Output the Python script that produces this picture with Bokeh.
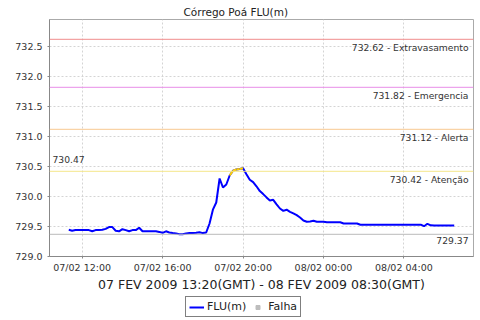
import pandas as pd
from bokeh.plotting import figure
from bokeh.layouts import column
from bokeh.models import (ColumnDataSource, Span, Label, Legend, LegendItem, Range1d,
                          FixedTicker, NumeralTickFormatter, DatetimeTickFormatter)
from bokeh.embed import file_html
from bokeh.resources import INLINE

# ---------------- data ----------------
title_text = "Córrego Poá FLU(m)"
subtitle_text = "07 FEV 2009 13:20(GMT) - 08 FEV 2009 08:30(GMT)"
series_name = "FLU(m)"
fail_name = "Falha"

start_time = "2009-02-07 11:20"   # local time of first reading
step = "10min"
flu_values = [
    729.445, 729.43, 729.44, 729.44, 729.44, 729.44, 729.44, 729.42, 729.44, 729.44,
    729.445, 729.46, 729.49, 729.49, 729.43, 729.42, 729.455, 729.44, 729.42, 729.44,
    729.44, 729.48, 729.42, 729.42, 729.42, 729.42, 729.42, 729.41, 729.395, 729.42,
    729.40, 729.39, 729.385, 729.37, 729.37, 729.385, 729.39, 729.39, 729.395, 729.405,
    729.39, 729.40, 729.55, 729.78, 729.90, 730.30, 730.15, 730.20, 730.35, 730.43,
    730.45, 730.46, 730.47, 730.37, 730.28, 730.24, 730.17, 730.09, 730.04, 729.985,
    729.935, 729.945, 729.87, 729.80, 729.76, 729.78, 729.745, 729.72, 729.69, 729.65,
    729.60, 729.58, 729.585, 729.595, 729.58, 729.58, 729.58, 729.57, 729.57, 729.57,
    729.57, 729.57, 729.55, 729.55, 729.55, 729.55, 729.55,
    729.53, 729.53, 729.53, 729.53, 729.53, 729.53, 729.53, 729.53, 729.53, 729.53,
    729.53, 729.53, 729.53, 729.53, 729.53, 729.53, 729.53, 729.53, 729.53,
    729.505, 729.545, 729.52,
    729.515, 729.515, 729.515, 729.515, 729.515, 729.515, 729.515,
]
fail_times = []    # no failure periods in this window
fail_values = []

threshold_names = ["Extravasamento", "Emergencia", "Alerta", "Atenção"]
threshold_values = [732.62, 731.82, 731.12, 730.42]
threshold_colors = ["#f08c8c", "#e88ee8", "#f8c890", "#f4e68a"]

y_ticks = [729.0, 729.5, 730.0, 730.5, 731.0, 731.5, 732.0, 732.5]
y_low, y_high = 729.0, 732.95
x_tick_times = ["2009-02-07 12:00", "2009-02-07 16:00", "2009-02-07 20:00",
                "2009-02-08 00:00", "2009-02-08 04:00"]

# ---------------- derived ----------------
times = pd.date_range(start=start_time, periods=len(flu_values), freq=step)
src = ColumnDataSource(dict(t=times, v=flu_values))

alert_level = threshold_values[3]
seg = dict(x0=[], y0=[], x1=[], y1=[])
for i in range(1, len(flu_values)):
    if flu_values[i] >= alert_level:
        seg["x0"].append(times[i - 1]); seg["y0"].append(flu_values[i - 1])
        seg["x1"].append(times[i]); seg["y1"].append(flu_values[i])
seg_src = ColumnDataSource(seg)

vmax = max(flu_values)
vmin = min(flu_values)
span_t = times[-1] - times[0]
x_start = times[0] - span_t * 0.05
x_end = times[-1] + span_t * 0.05

FONT = "DejaVu Sans"
TXT = "#333333"
FAIL_COLOR = "#bdbdbd"

p = figure(width=480, height=294, output_backend="svg", toolbar_location=None,
           x_axis_type="datetime",
           x_range=Range1d(x_start, x_end), y_range=Range1d(y_low, y_high),
           min_border_left=49, min_border_right=7, min_border_top=19, min_border_bottom=38)

p.title.text = title_text
p.title.align = "left"
p.title.text_font = FONT
p.title.text_font_size = "10.5px"
p.title.text_font_style = "normal"
p.title.text_color = "#222222"
p.title.standoff = 4
p.title.offset = 134

p.background_fill_color = "white"
p.border_fill_color = "white"
p.outline_line_color = "#aaaaaa"

for g in (p.xgrid, p.ygrid):
    g.grid_line_color = "#d4d4d4"
    g.grid_line_dash = "2 2"
    g.grid_line_width = 1

p.yaxis.ticker = FixedTicker(ticks=y_ticks)
p.yaxis.formatter = NumeralTickFormatter(format="0.0")
p.xaxis.ticker = FixedTicker(ticks=[pd.Timestamp(t).value // 10**6 for t in x_tick_times])
fmt = "%d/%m %H:%M"
p.xaxis.formatter = DatetimeTickFormatter(milliseconds=fmt, seconds=fmt, minsec=fmt, minutes=fmt,
                                          hourmin=fmt, hours=fmt, days=fmt, months=fmt, years=fmt)

for ax in (p.xaxis[0], p.yaxis[0]):
    ax.axis_line_color = "#888888"
    ax.major_tick_line_color = "#888888"
    ax.major_tick_out = 2
    ax.major_tick_in = 0
    ax.minor_tick_out = 0
    ax.minor_tick_in = 0
    ax.major_label_text_font = FONT
    ax.major_label_text_font_size = "9.5px"
    ax.major_label_text_color = TXT
p.yaxis.major_label_standoff = 5
p.xaxis.major_label_standoff = 3

p.xaxis.axis_label = subtitle_text
p.xaxis.axis_label_text_font = FONT
p.xaxis.axis_label_text_font_size = "12.5px"
p.xaxis.axis_label_text_font_style = "normal"
p.xaxis.axis_label_text_color = "#222222"
p.xaxis.axis_label_standoff = 1

# thresholds
for name, val, col in zip(threshold_names, threshold_values, threshold_colors):
    p.add_layout(Span(location=val, dimension="width", line_color=col, line_width=1))
    p.add_layout(Label(x=x_end, y=val, text=f"{val:.2f} - {name}", x_offset=-5, y_offset=-3,
                       text_align="right", text_baseline="top", text_font=FONT,
                       text_font_size="9.2px", text_color=TXT))

# min line and label
p.add_layout(Span(location=vmin, dimension="width", line_color="#bbbbbb", line_width=1))
p.add_layout(Label(x=x_end, y=vmin, text=f"{vmin:.2f}", x_offset=-5, y_offset=-3,
                   text_align="right", text_baseline="top", text_font=FONT,
                   text_font_size="9.2px", text_color=TXT))
# max label
p.add_layout(Label(x=x_start, y=vmax, text=f"{vmax:.2f}", x_offset=3, y_offset=5,
                   text_align="left", text_baseline="bottom", text_font=FONT,
                   text_font_size="9.2px", text_color=TXT))

p.line("t", "v", source=src, line_color="#0000ff", line_width=2)
p.segment("x0", "y0", "x1", "y1", source=seg_src, line_color="#ffd200", line_width=2)
p.scatter(x=fail_times, y=fail_values, marker="square", size=8,
          fill_color=FAIL_COLOR, line_color=FAIL_COLOR)

# legend strip (separate small figure below the axis title). Its swatch renderers
# reuse the series source; the points fall outside this strip's ranges, so only the
# legend swatches are visible.
lf = figure(width=480, height=26, output_backend="svg", toolbar_location=None,
            x_axis_location=None, y_axis_location=None,
            x_range=Range1d(0, 1), y_range=Range1d(0, 1),
            min_border_left=0, min_border_right=0, min_border_top=0, min_border_bottom=0)
lf.outline_line_color = None
lf.xgrid.visible = False
lf.ygrid.visible = False
lf.background_fill_color = "white"
lf.border_fill_color = "white"
leg_line = lf.line("t", "v", source=src, line_color="#0000ff", line_width=2)
leg_fail = lf.scatter("t", "v", source=src, marker="square", size=8,
                      fill_color=FAIL_COLOR, line_color=FAIL_COLOR)
legend = Legend(items=[LegendItem(label=series_name, renderers=[leg_line]),
                       LegendItem(label=fail_name, renderers=[leg_fail])],
                orientation="horizontal", location=(136, 3))
legend.border_line_color = "black"
legend.border_line_width = 1
legend.background_fill_color = "white"
legend.label_text_font = FONT
legend.label_text_font_size = "11px"
legend.label_text_color = "#222222"
legend.glyph_width = 15
legend.glyph_height = 10
legend.padding = 3
legend.spacing = 4
legend.margin = 0
legend.label_standoff = 3
legend.label_height = 12
lf.add_layout(legend, "center")

page = column(p, lf, spacing=0)

open("out.html", "w").write(file_html(page, INLINE))
